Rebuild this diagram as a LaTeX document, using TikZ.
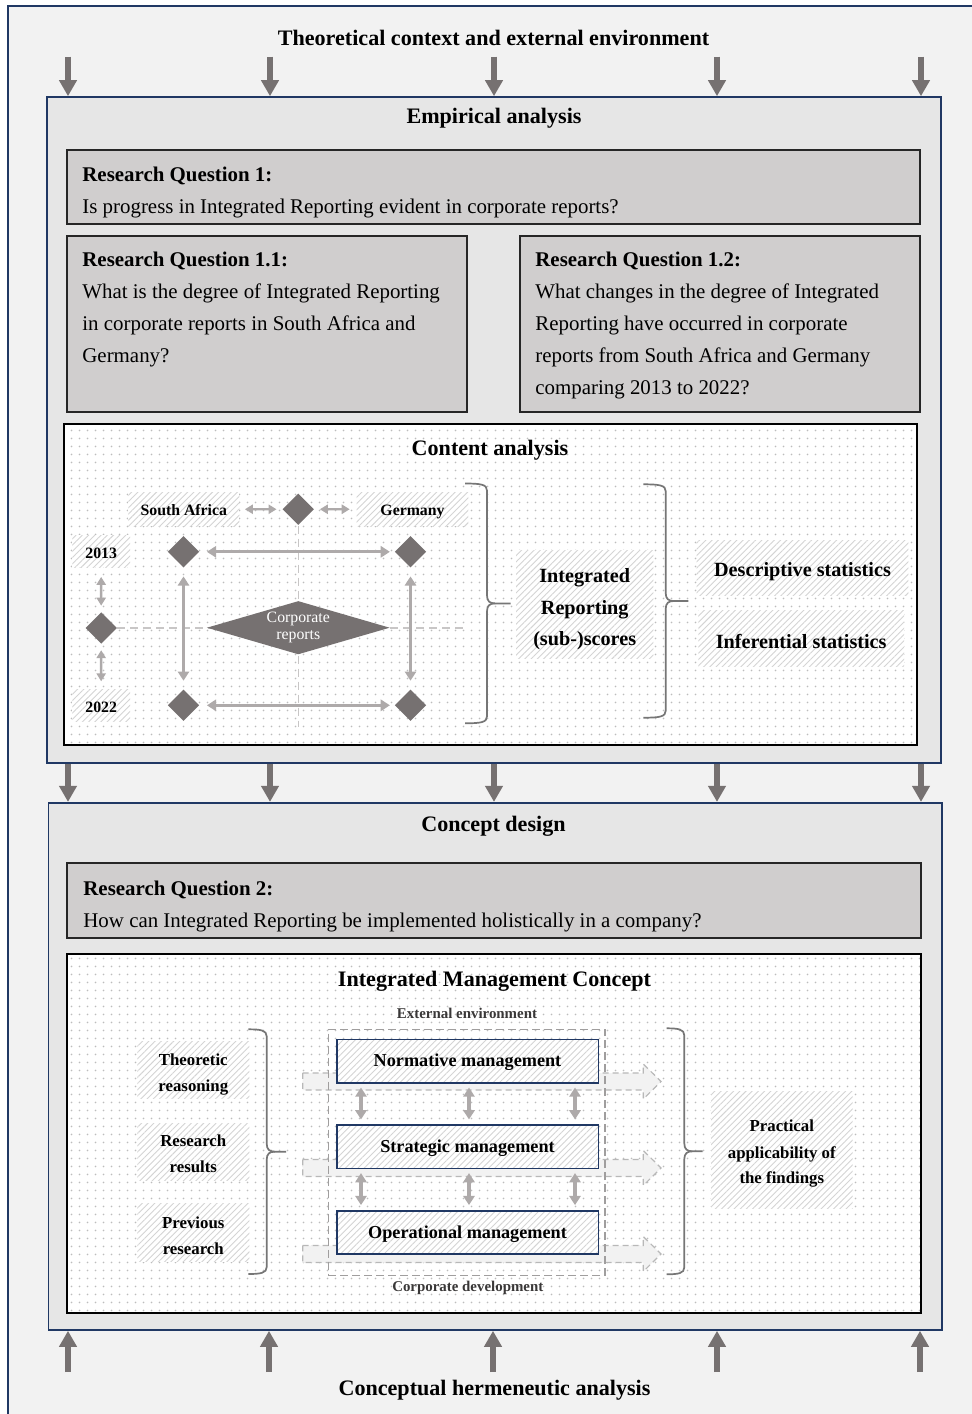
\documentclass[tikz,border=0pt]{standalone}
\usepackage{fontspec}
\setmainfont{Liberation Serif}
\usetikzlibrary{arrows.meta,patterns.meta,shapes.geometric,fit}

\definecolor{bgc}{HTML}{F2F2F2}
\definecolor{panelc}{HTML}{E6E6E6}
\definecolor{qfill}{HTML}{D0CECE}
\definecolor{navy}{HTML}{203864}
\definecolor{darkar}{HTML}{767171}
\definecolor{lightar}{HTML}{AEAAAA}
\definecolor{dotc}{HTML}{BDBDBD}
\definecolor{hatchc}{HTML}{D4D4D4}
\definecolor{dashc}{HTML}{C8C6C6}
\definecolor{envtext}{HTML}{3A3838}
\definecolor{brcc}{HTML}{767676}

\newcommand\fsHead{\fontsize{11.05}{13}\selectfont}
\newcommand\fsQ{\fontsize{10.45}{13}\selectfont}
\newcommand\fsMid{\fontsize{10.1}{13}\selectfont}
\newcommand\fsMan{\fontsize{9.1}{11}\selectfont}
\newcommand\fsSrc{\fontsize{8.4}{10}\selectfont}
\newcommand\fsTag{\fontsize{7.9}{8.3}\selectfont}
\newcommand\fsEnv{\fontsize{7.45}{9}\selectfont}

% right curly brace: start x, spine x, top y, bottom y, tip x
\newcommand\curlyr[5]{%
  \pgfmathsetmacro\brmid{(#3+#4)/2}
  \draw[brc] (#1,#3) .. controls ({#2-6},#3) and (#2,{#3+1}) .. (#2,{#3+7})
    -- (#2,{\brmid-8}) .. controls (#2,{\brmid-2}) and ({#2+3},\brmid) .. ({#2+8},\brmid) -- (#5,\brmid);
  \draw[brc] ({#2+8},\brmid) .. controls ({#2+3},\brmid) and (#2,{\brmid+2}) .. (#2,{\brmid+8})
    -- (#2,{#4-7}) .. controls (#2,{#4-1}) and ({#2-6},#4) .. (#1,#4);
}

\tikzset{
  panel/.style={draw=navy, line width=0.8pt, fill=panelc, inner sep=0pt},
  qbox/.style={draw=black!85, line width=1pt, fill=qfill, inner sep=0pt},
  dotbox/.style={draw=black, line width=1pt, preaction={fill=white},
    pattern={Dots[radius=0.5pt,distance=4pt]}, pattern color=dotc, inner sep=0pt},
  hatchbox/.style={preaction={fill=white},
    pattern={Lines[angle=45,distance=2.2pt,line width=0.45pt]}, pattern color=hatchc, inner sep=0pt},
  mgbox/.style={hatchbox, draw=navy, line width=0.8pt},
  head/.style={font=\bfseries\fsHead, inner sep=0pt, anchor=base},
  qhead/.style={font=\bfseries\fsQ, inner sep=0pt, anchor=base west},
  qline/.style={font=\fsQ, inner sep=0pt, anchor=base west},
  midtxt/.style={font=\bfseries\fsMid, inner sep=0pt, anchor=base},
  mantxt/.style={font=\bfseries\fsMan, inner sep=0pt, anchor=base},
  srctxt/.style={font=\bfseries\fsSrc, inner sep=0pt, anchor=base},
  tagtxt/.style={font=\bfseries\fsTag, inner sep=0pt, anchor=base},
  envtxt/.style={font=\bfseries\fsEnv, text=envtext, inner sep=0pt, anchor=base},
  bigarrow/.style={draw=darkar, line width=3pt, -{Triangle[width=8.5pt,length=8pt]}},
  dbl/.style={draw=lightar, line width=1.6pt,
    {Triangle[width=5.6pt,length=4.6pt]}-{Triangle[width=5.6pt,length=4.6pt]}},
  dbls/.style={draw=lightar, line width=1.2pt,
    {Triangle[width=4.6pt,length=4pt]}-{Triangle[width=4.6pt,length=4pt]}},
  guide/.style={draw=dashc, line width=0.8pt, dash pattern=on 4pt off 2.5pt},
  dia/.style={diamond, fill=darkar, minimum width=15.8pt, minimum height=15.8pt, inner sep=0pt, aspect=1},
  brc/.style={draw=brcc, line width=0.85pt},
  blk/.style={draw=black!28, fill=black!5, line width=0.6pt, dash pattern=on 3pt off 2pt},
  frame/.style={draw=dashc!80!black, line width=0.8pt, dash pattern=on 4pt off 2pt},
}

\begin{document}
\begin{tikzpicture}[x=0.5pt,y=-0.5pt]
\useasboundingbox (0,0) rectangle (971,1414);
\fill[white] (0,0) rectangle (971,1414);
\draw[navy, line width=1pt, fill=bgc] (8,6) rectangle (1000,1440);

% ---------- top label and empirical panel ----------
\node[head] (ttop) at (493.5,45) {Theoretical context and external environment};
\node[panel, fit={(47,97) (941,763)}] (emp) {};
\node[head] (temp) at (494,123.3) {Empirical analysis};

\node[qbox, fit={(67,150) (920,224)}] (rq1) {};
\node[qhead] (rq1h) at (82,181.7) {Research Question 1:};
\node[qline] (rq1a) at (82,213.3) {Is progress in Integrated Reporting evident in corporate reports?};

\node[qbox, fit={(67,236) (467,411.5)}] (rq11) {};
\node[qhead] (rq11h) at (82,266.7) {Research Question 1.1:};
\node[qline] (rq11a) at (82,298.7) {What is the degree of Integrated Reporting};
\node[qline] (rq11b) at (82,330.5) {in corporate reports in South Africa and};
\node[qline] (rq11c) at (82,362.2) {Germany?};

\node[qbox, fit={(520,236) (920,411.5)}] (rq12) {};
\node[qhead] (rq12h) at (535,266.7) {Research Question 1.2:};
\node[qline] (rq12a) at (535,298.7) {What changes in the degree of Integrated};
\node[qline] (rq12b) at (535,330.5) {Reporting have occurred in corporate};
\node[qline] (rq12c) at (535,362.2) {reports from South Africa and Germany};
\node[qline] (rq12d) at (535,394) {comparing 2013 to 2022?};

% ---------- content analysis ----------
\node[dotbox, fit={(64,424) (916.5,744.5)}] (ca) {};
\node[head] (tca) at (490,455) {Content analysis};

\node[hatchbox, fit={(128.3,492.3) (239.3,526)}] (sa) {};
\node[tagtxt] (satx) at (183.8,515.7) {South Africa};
\node[hatchbox, fit={(356.7,492.3) (468.3,526)}] (de) {};
\node[tagtxt] (detx) at (412.5,515.7) {Germany};
\node[hatchbox, fit={(72.3,535) (130,567.3)}] (y13) {};
\node[tagtxt] (y13tx) at (101.2,558.3) {2013};
\node[hatchbox, fit={(72.3,689.3) (130,721.7)}] (y22) {};
\node[tagtxt] (y22tx) at (101.2,712.3) {2022};

\node[dia] (topdia) at (298.3,509.3) {};
\node[dia] (middia) at (101.2,628) {};
\node[dia] (sa13) at (183.5,551.8) {};
\node[dia] (de13) at (410.5,551.8) {};
\node[dia] (sa22) at (183.5,705.3) {};
\node[dia] (de22) at (410.5,705.3) {};

\coordinate (hend) at (465,628);
\coordinate (vend) at (298.3,727);
\draw[guide] (middia.east) -- (hend);
\draw[guide] (topdia.south) -- (vend);

\draw[dbls, shorten <=2.6pt, shorten >=2.8pt] (sa) -- (topdia);
\draw[dbls, shorten <=2.7pt, shorten >=3.3pt] (topdia) -- (de);
\draw[dbl, shorten <=3.6pt, shorten >=2.2pt] (sa13) -- (de13);
\draw[dbl, shorten <=3.6pt, shorten >=2.2pt] (sa22) -- (de22);
\draw[dbl, shorten <=4.2pt, shorten >=4.2pt] (sa13) -- (sa22);
\draw[dbl, shorten <=4.2pt, shorten >=4.2pt] (de13) -- (de22);
\draw[dbls, shorten <=4.6pt, shorten >=3.1pt] (y13) -- (middia);
\draw[dbls, shorten <=3pt, shorten >=3.8pt] (middia) -- (y22);

\node[diamond, fill=darkar, aspect=3.45, minimum width=91.5pt, minimum height=26.7pt,
  inner sep=0pt, text=white, font=\fsTag, align=center] (crep) at (298.3,627.7) {Corporate\\reports};

\curlyr{465}{487}{483.5}{723.3}{510.7}

\node[hatchbox, fit={(516,550) (653.3,658.3)}] (irs) {};
\node[midtxt] (irs1) at (584.7,582.3) {Integrated};
\node[midtxt] (irs2) at (584.7,614.3) {Reporting};
\node[midtxt] (irs3) at (584.7,645.7) {(sub-)scores};

\curlyr{643.3}{665.7}{484.3}{717.7}{688.3}

\node[hatchbox, fit={(696.7,540) (908.3,595)}] (dst) {};
\node[midtxt] (dsttx) at (802.5,576.7) {Descriptive statistics};
\node[hatchbox, fit={(698.3,610.7) (904,666)}] (ist) {};
\node[midtxt] (isttx) at (801.2,648.3) {Inferential statistics};

% ---------- concept design panel ----------
\node[panel, fit={(48.3,802.7) (941.7,1330)}] (con) {};
\node[head] (tcon) at (493.5,831.7) {Concept design};

\foreach \x [count=\i] in {68,270,494,717,921}{
  \coordinate (tp\i) at (\x,56.5);
  \draw[bigarrow] (tp\i) -- (tp\i |- emp.north);
  \draw[bigarrow] (tp\i |- emp.south) -- (tp\i |- con.north);
}

\node[qbox, fit={(67,863) (921,938)}] (rq2) {};
\node[qhead] (rq2h) at (83,895.7) {Research Question 2:};
\node[qline] (rq2a) at (83,927.3) {How can Integrated Reporting be implemented holistically in a company?};

\node[dotbox, fit={(67.3,954) (920.7,1313)}] (imc) {};
\node[head] (timc) at (494.5,986.5) {Integrated Management Concept};

% sources on the left
\node[hatchbox, fit={(137.3,1041.7) (249.3,1098.3)}] (src1) {};
\node[srctxt] (src1a) at (193.3,1065) {Theoretic};
\node[srctxt] (src1b) at (193.3,1091) {reasoning};
\node[hatchbox, fit={(137.3,1123.3) (249.3,1180)}] (src2) {};
\node[srctxt] (src2a) at (193.3,1146) {Research};
\node[srctxt] (src2b) at (193.3,1172.7) {results};
\node[hatchbox, fit={(137.3,1203.3) (249.3,1261.7)}] (src3) {};
\node[srctxt] (src3a) at (193.3,1228.3) {Previous};
\node[srctxt] (src3b) at (193.3,1254) {research};

\curlyr{248.3}{266.7}{1029.3}{1274}{286}

% development arrows behind the management levels
\foreach \yy in {1081.5,1168,1254}{
  \draw[blk] (302.7,{\yy-8.5}) -- (643.3,{\yy-8.5}) -- (643.3,{\yy-17.5}) -- (661,\yy)
    -- (643.3,{\yy+17.5}) -- (643.3,{\yy+8.5}) -- (302.7,{\yy+8.5}) -- cycle;
}

\node[inner sep=0pt, fit={(328.3,1029.3) (605,1275.5)}, frame] (cdev) {};
\node[envtxt] (envt) at (467,1018.3) {External environment};
\node[envtxt] (cdevt) at (467.8,1291.7) {Corporate development};

\node[mgbox, fit={(336.7,1039.3) (598.3,1082.7)}] (mgn) {};
\node[mantxt] (mgntx) at (467.5,1066.7) {Normative management};
\node[mgbox, fit={(336.7,1125) (598.3,1168.3)}] (mgs) {};
\node[mantxt] (mgstx) at (467.5,1152.3) {Strategic management};
\node[mgbox, fit={(336.7,1210.7) (598.3,1254)}] (mgo) {};
\node[mantxt] (mgotx) at (467.5,1238.3) {Operational management};

\foreach \x [count=\i] in {361,469,575}{
  \coordinate (ax\i) at (\x,1100);
  \draw[dbl, shorten <=2pt, shorten >=2.4pt] (ax\i |- mgn.south) -- (ax\i |- mgs.north);
  \draw[dbl, shorten <=2pt, shorten >=2.4pt] (ax\i |- mgs.south) -- (ax\i |- mgo.north);
}

\curlyr{666.7}{684.3}{1028.3}{1274.3}{702.7}

\node[hatchbox, fit={(711,1091.7) (852.7,1208.3)}] (prac) {};
\node[srctxt] (prac1) at (781.8,1131.7) {Practical};
\node[srctxt] (prac2) at (781.8,1158.3) {applicability of};
\node[srctxt] (prac3) at (781.8,1183.3) {the findings};

% ---------- bottom label ----------
\foreach \x [count=\i] in {68,269,493,717,920}{
  \coordinate (bt\i) at (\x,1372);
  \draw[bigarrow] (bt\i) -- (bt\i |- con.south);
}
\node[head] (tbot) at (494.5,1395) {Conceptual hermeneutic analysis};
\end{tikzpicture}
\end{document}
